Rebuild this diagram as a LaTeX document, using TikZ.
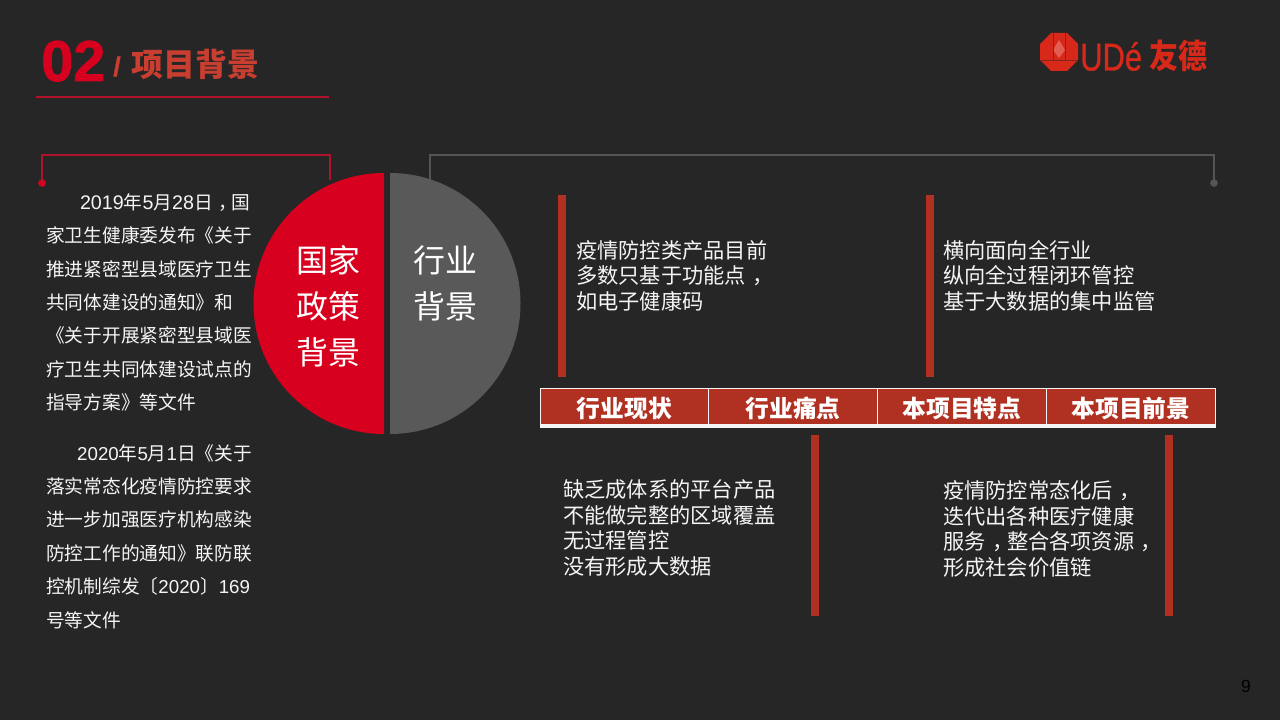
\documentclass[tikz,border=0pt]{standalone}
\usepackage{fontspec}
\setmainfont{Noto Sans CJK SC}
\newfontfamily\arialfont[BoldFeatures={FakeBold=1.2}]{Liberation Sans}
\newfontfamily\logofont[FakeBold=0.8]{Liberation Sans}
\newcommand{\midcomma}{\hspace{0.3em}，\hspace{-0.3em}}
\newcommand{\bignum}[1]{{\fontsize{14}{23.75}\selectfont\arialfont #1}}
\usetikzlibrary{calc}
\definecolor{slide}{RGB}{38,38,38}
\definecolor{policyred}{RGB}{215,0,30}
\definecolor{policyline}{RGB}{175,18,42}
\definecolor{industrygrey}{RGB}{89,89,89}
\definecolor{industryline}{RGB}{85,85,85}
\definecolor{barred}{RGB}{176,48,33}
\definecolor{titlered}{RGB}{200,62,48}
\definecolor{logored}{RGB}{216,40,26}
\definecolor{softwhite}{RGB}{245,245,245}
\tikzset{
    paragraph/.style={anchor=west, inner sep=0pt, align=left, text=softwhite, font=\fontsize{13.3}{23.75}\selectfont},
    note/.style={anchor=west, inner sep=0pt, align=left, text=softwhite, font=\fontsize{15.1}{18.1}\selectfont},
    disc/.style={inner sep=0pt, align=center, text=white, font=\fontsize{22.7}{32.6}\selectfont},
    headcell/.style={draw=softwhite, line width=0.7pt, fill=barred, text=white, inner sep=0pt, text height=16pt, text depth=1pt, minimum width=169*0.7087pt, minimum height=37*0.7087pt, font=\fontsize{16.9}{20}\selectfont\bfseries},
    bar/.style={fill=barred}
}

\begin{document}
\begin{tikzpicture}[x=0.025cm, y=-0.025cm]

    \useasboundingbox[fill=slide] (0,0) rectangle (1280,720);

    % title
    \node[anchor=base west, inner sep=0pt, text=policyred, font=\fontsize{41}{41}\selectfont\arialfont\bfseries] (chapter) at (41,81) {02};
    \node[anchor=base west, inner sep=0pt, text=titlered, font=\fontsize{19}{19}\selectfont\arialfont\bfseries] (slash) at (113,76) {/};
    \node[anchor=base west, inner sep=0pt, text=titlered, font=\fontsize{22.7}{24}\selectfont\bfseries] (title) at (131,77) {项目背景};
    \draw[policyline, line width=1pt] (36,97) -- (329,97);

    % logo
    \fill[logored] (1051,33) -- (1067,33) -- (1078,44) -- (1078,60) -- (1067,71) -- (1051,71) -- (1040,60) -- (1040,44) -- cycle;
    \fill[logored!75!white] (1059,40) -- (1065,50) -- (1059,58) -- (1053,50) -- cycle;
    \draw[slide!50!logored, line width=0.5pt] (1053,33) -- (1053,60) (1065,33) -- (1065,60) (1040,60) -- (1078,60);
    \node[anchor=base west, inner sep=0pt, text=logored, xscale=0.8, font=\fontsize{27.5}{28}\selectfont\logofont] (logoname) at (1080,70.5) {UDé};
    \node[anchor=base west, inner sep=0pt, text=logored, yscale=1.15, font=\fontsize{20.6}{22}\selectfont\bfseries] (logochinese) at (1149,68.5) {友德};

    % brackets
    \node[circle, fill=policyred, inner sep=0pt, minimum size=5.5pt] (policydot) at (42,183) {};
    \coordinate (policyend) at (330,180);
    \draw[policyline, line width=1pt] (policydot.center) -- (42,155) -- (330,155) -- (policyend);

    \node[circle, fill=industryline, inner sep=0pt, minimum size=5.5pt] (industrydot) at (1214,183) {};
    \coordinate (industryend) at (430,180);
    \draw[industryline, line width=1pt] (industrydot.center) -- (1214,155) -- (430,155) -- (industryend);

    % half discs
    \fill[policyred] (384,173) arc[start angle=270, end angle=90, radius=130.5] -- cycle;
    \fill[industrygrey] (390,173) arc[start angle=-90, end angle=90, radius=130.5] -- cycle;
    \node[disc] (policy) at (328,306) {国家\\政策\\背景};
    \node[disc] (industry) at (445,283) {行业\\背景};

    % left column
    \node[paragraph] (decree) at (46,302.5) {\hspace*{24pt}\bignum{2019}年\bignum{5}月\bignum{28}日\midcomma 国\\
        家卫生健康委发布《关于\\
        推进紧密型县域医疗卫生\\
        共同体建设的通知》和\\
        《关于开展紧密型县域医\\
        疗卫生共同体建设试点的\\
        指导方案》等文件};
    \node[paragraph] (notice) at (46,536.5) {\hspace*{22pt}{\arialfont 2020}年{\arialfont 5}月{\arialfont 1}日《关于\\
        落实常态化疫情防控要求\\
        进一步加强医疗机构感染\\
        防控工作的通知》联防联\\
        控机制综发〔{\arialfont 2020}〕{\arialfont 169}\\
        号等文件};

    % header row
    \fill[softwhite] (540,388) rectangle (1216,428.5);
    \node[headcell] (status) at (624.5,406.5) {行业现状};
    \node[headcell] (pain) at (793,406.5) {行业痛点};
    \node[headcell] (feature) at (962,406.5) {本项目特点};
    \node[headcell] (prospect) at (1131,406.5) {本项目前景};

    % bars
    \fill[bar] (558,195) rectangle (566,377);
    \fill[bar] (926,195) rectangle (934,377);
    \fill[bar] (811,435) rectangle (819,616);
    \fill[bar] (1165,435) rectangle (1173,616);

    % notes
    \node[note] (statusnote) at (576,275.5) {疫情防控类产品目前\\多数只基于功能点\midcomma\\如电子健康码};
    \node[note] (featurenote) at (943,275.5) {横向面向全行业\\纵向全过程闭环管控\\基于大数据的集中监管};
    \node[note] (painnote) at (563,528) {缺乏成体系的平台产品\\不能做完整的区域覆盖\\无过程管控\\没有形成大数据};
    \node[note] (prospectnote) at (943,529) {疫情防控常态化后\midcomma\\迭代出各种医疗健康\\服务\midcomma 整合各项资源\midcomma\\形成社会价值链};

    \node[inner sep=0pt, text=black, font=\fontsize{12.5}{14}\selectfont\arialfont] (pagenumber) at (1246,686) {9};

\end{tikzpicture}
\end{document}
